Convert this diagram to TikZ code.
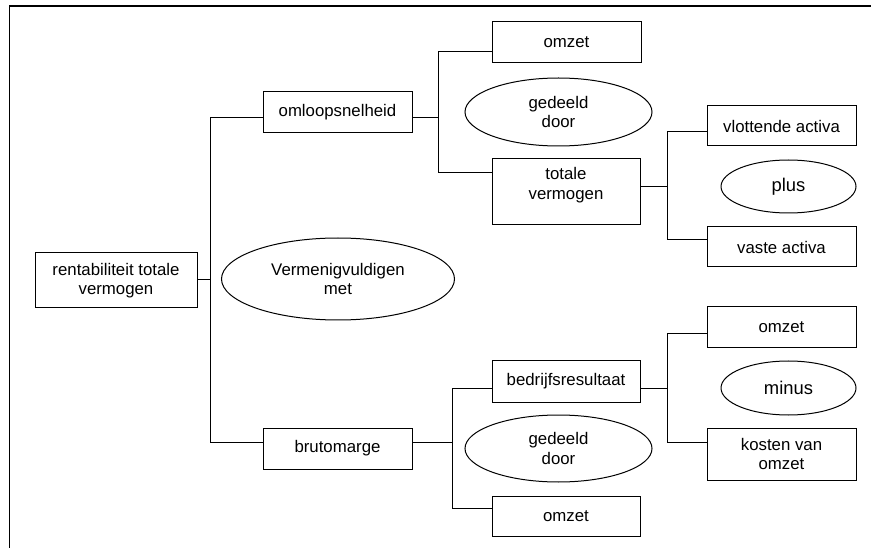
\documentclass[tikz,border=0pt]{standalone}
\usepackage{fontspec}
\setmainfont{Liberation Sans}
\usetikzlibrary{shapes.geometric}
\begin{document}
\begin{tikzpicture}[x=1pt,y=-1pt,
  every node/.style={font=\fontsize{16.8}{19.3}\selectfont, align=center, inner sep=0pt},
  boxn/.style={draw, line width=1pt, rectangle, minimum width=#1},
  ell/.style={draw, line width=1pt, ellipse},
  bigtxt/.style={font=\fontsize{18.4}{21}\selectfont},
  conn/.style={line width=1pt}
]
\useasboundingbox (0,0) rectangle (871,548);
\draw[line width=1.3pt] (9.5,548) -- (9.5,6) -- (871,6);

% nodes
\node[boxn=162pt, minimum height=55pt] (root) at (116,280.5) {rentabiliteit totale\\vermogen};
\node[boxn=149pt, minimum height=41pt] (oms) at (337.5,112.5) {omloopsnelheid};
\node[boxn=149pt, minimum height=41pt] (bm) at (337.5,448.5) {brutomarge};
\node[ell, minimum width=233pt, minimum height=82pt] (vm) at (338,279) {Vermenigvuldigen\\met};

\node[boxn=149pt, minimum height=41pt] (oz1) at (566.5,42.5) {omzet};
\node[ell, minimum width=187pt, minimum height=68pt] (gd1) at (558.5,112) {gedeeld\\door};
\node[boxn=148pt, minimum height=66pt] (tv) at (566,192) {totale\\vermogen\\[-2pt]\mbox{}};

\node[boxn=149pt, minimum height=40pt] (vla) at (781.5,126) {vlottende activa};
\node[ell, bigtxt, minimum width=135pt, minimum height=53pt] (plus) at (788.5,186.5) {plus};
\node[boxn=149pt, minimum height=40pt] (va) at (781.5,247) {vaste activa};

\node[boxn=148pt, minimum height=41pt] (br) at (566,381.5) {bedrijfsresultaat};
\node[ell, minimum width=187pt, minimum height=67pt] (gd2) at (558.5,448.5) {gedeeld\\door};
\node[boxn=148pt, minimum height=40pt] (oz3) at (566,516) {omzet};

\node[boxn=149pt, minimum height=41pt] (oz2) at (781.5,327.5) {omzet};
\node[ell, bigtxt, minimum width=135pt, minimum height=54pt] (minus) at (788.5,388) {minus};
\node[boxn=149pt, minimum height=52pt] (kvo) at (781.5,454) {kosten van\\omzet};

% junction coordinates
\coordinate (j0t) at (210,118);
\coordinate (j0m) at (210,280);
\coordinate (j0b) at (210,442);
\coordinate (j1t) at (438,52);
\coordinate (j1m) at (438,118);
\coordinate (j1b) at (438,173);
\coordinate (j2t) at (667,132);
\coordinate (j2m) at (667,187);
\coordinate (j2b) at (667,240);
\coordinate (j3t) at (452,388);
\coordinate (j3m) at (452,442);
\coordinate (j3b) at (452,508);
\coordinate (j4t) at (667,334);
\coordinate (j4m) at (667,388);
\coordinate (j4b) at (667,442);

% connectors
\draw[conn] (root.east |- j0m) -- (j0m);
\draw[conn] (oms.west |- j0t) -- (j0t) -- (j0b) -- (bm.west |- j0b);

\draw[conn] (oms.east |- j1m) -- (j1m);
\draw[conn] (oz1.west |- j1t) -- (j1t) -- (j1b) -- (tv.west |- j1b);

\draw[conn] (tv.east |- j2m) -- (j2m);
\draw[conn] (vla.west |- j2t) -- (j2t) -- (j2b) -- (va.west |- j2b);

\draw[conn] (bm.east |- j3m) -- (j3m);
\draw[conn] (br.west |- j3t) -- (j3t) -- (j3b) -- (oz3.west |- j3b);

\draw[conn] (br.east |- j4m) -- (j4m);
\draw[conn] (oz2.west |- j4t) -- (j4t) -- (j4b) -- (kvo.west |- j4b);
\end{tikzpicture}
\end{document}
